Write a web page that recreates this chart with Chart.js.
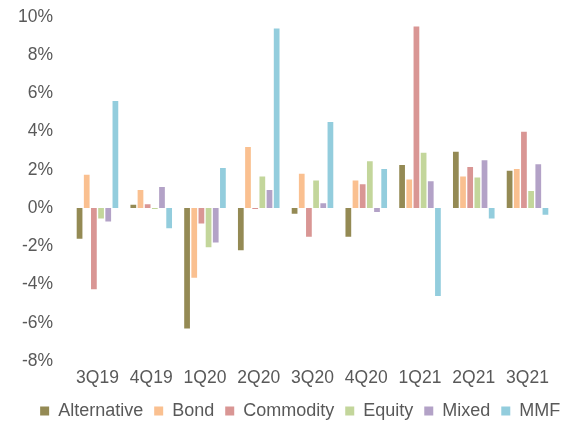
<!DOCTYPE html>
<html>
<head>
<meta charset="utf-8">
<script src="https://cdn.jsdelivr.net/npm/chart.js@4/dist/chart.umd.min.js"></script>
<style>
html,body{margin:0;padding:0;background:#fff;}
#wrap{width:567px;height:422px;position:relative;}
</style>
</head>
<body>
<div id="wrap"><canvas id="c"></canvas></div>
<script>
const categories = ['3Q19','4Q19','1Q20','2Q20','3Q20','4Q20','1Q21','2Q21','3Q21'];
const seriesNames = ['Alternative','Bond','Commodity','Equity','Mixed','MMF'];
const alternative = [-1.6, 0.17, -6.3, -2.2, -0.3, -1.5, 2.25, 2.95, 1.95];
const bond        = [1.75, 0.95, -3.65, 3.2, 1.8, 1.45, 1.5, 1.65, 2.05];
const commodity   = [-4.25, 0.2, -0.8, -0.05, -1.5, 1.25, 9.5, 2.15, 4.0];
const equity      = [-0.55, -0.05, -2.05, 1.65, 1.45, 2.45, 2.9, 1.6, 0.9];
const mixed       = [-0.7, 1.1, -1.8, 0.95, 0.25, -0.2, 1.4, 2.5, 2.3];
const mmf         = [5.6, -1.05, 2.1, 9.4, 4.5, 2.05, -4.6, -0.55, -0.35];
const yTicks = [-8, -6, -4, -2, 0, 2, 4, 6, 8, 10];

const colors = ['#948A54','#FAC090','#D99694','#C3D69B','#B3A2C7','#93CDDD'];
const values = [alternative, bond, commodity, equity, mixed, mmf];

const datasets = seriesNames.map((n, i) => ({
  label: n,
  data: values[i],
  backgroundColor: colors[i],
  borderWidth: 0,
  barPercentage: 0.8,
  categoryPercentage: 0.8
}));

Chart.defaults.font.family = '"Liberation Sans", Arial, sans-serif';
Chart.defaults.color = '#595959';

const shiftLegend = {
  id: 'shiftLegend',
  beforeDraw(chart) {
    const lg = chart.legend;
    if (lg && !lg._shifted) { lg.left += 23; lg.right += 23; lg._shifted = true; }
  }
};

new Chart(document.getElementById('c'), {
  type: 'bar',
  data: { labels: categories, datasets },
  plugins: [shiftLegend],
  options: {
    responsive: true,
    maintainAspectRatio: false,
    animation: false,
    layout: { padding: { top: 17, right: 12.6, left: 0, bottom: -8 } },
    plugins: {
      tooltip: { enabled: false },
      legend: {
        position: 'bottom',
        labels: {
          boxWidth: 9,
          boxHeight: 9,
          padding: 11,
          font: { size: 18 },
          color: '#595959'
        }
      }
    },
    scales: {
      x: {
        grid: { display: false, drawTicks: false },
        border: { display: false },
        afterFit: (s) => { s.height -= 5; s.paddingLeft = 0; s.paddingRight = 0; },
        ticks: { font: { size: 17.5 }, padding: 7, color: '#595959', maxRotation: 0 }
      },
      y: {
        min: -8, max: 10,
        grid: { display: false, drawTicks: false },
        border: { display: false },
        afterBuildTicks: (s) => { s.ticks = yTicks.map(v => ({ value: v })); },
        afterFit: (s) => { s.width = 70.6; s.paddingTop = 0; s.paddingBottom = 0; },
        ticks: {
          font: { size: 17.5 }, padding: 17.5, color: '#595959',
          callback: (v) => v + '%'
        }
      }
    }
  }
});
</script>
</body>
</html>
